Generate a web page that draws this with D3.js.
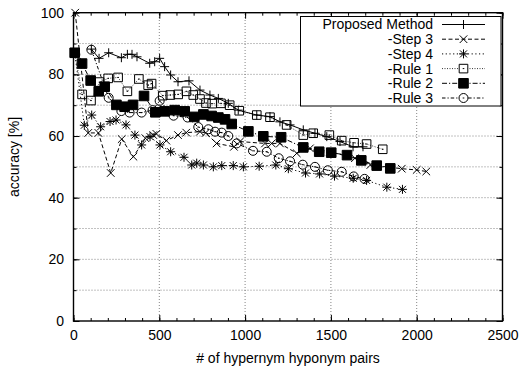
<!DOCTYPE html>
<html>
<head>
<meta charset="utf-8">
<script src="https://cdn.jsdelivr.net/npm/d3@7"></script>
<style>
  body { margin: 0; background: #fff; }
  svg { display: block; font-family: "Liberation Sans", Arial, Helvetica, sans-serif; }
  text { font-size: 14px; fill: #000; }
</style>
</head>
<body>
<div id="chart"></div>
<script>
// values: [pairs, accuracy %]
var proposed = [[104,88.2],[149,85.2],[205,87],[279,85.4],[314,86.5],[341,86.5],[370,85.7],[444,83.6],[473,84.1],[502,85.2],[531,82.5],[566,79.8],[609,77.6],[673,77.9],[737,74.9],[795,73.3],[844,72.2],[902,70.6],[960,68.4],[1068,66.8],[1145,66.3],[1203,64.6],[1262,63.6],[1339,62],[1407,60.9],[1476,59.8],[1553,58.2],[1629,56.5],[1687,56.5]];
var step3 = [[10,100],[86,61],[145,61],[217,48],[281,59],[349,53.3],[419,59.3],[465,60.3],[483,60.7],[541,58.5],[609,60.3],[657,61.1],[737,61.4],[770,61],[834,57.6],[935,56.5],[970,58.2],[1116,57.6],[1155,57.6],[1203,57.6],[1301,54.4],[1378,56],[1495,54.9],[1640,52.8],[1730,50.6],[1913,49.4],[2000,49],[2056,48.5]];
var step4 = [[7,87],[63,63.5],[106,66.8],[158,63],[213,64.7],[248,65.2],[306,63.6],[358,60.3],[397,57.1],[446,59.8],[504,57.1],[566,54.9],[644,53.1],[689,50.6],[718,51.2],[757,50.6],[815,50],[864,50.4],[931,50.4],[990,50],[1082,50.2],[1179,50.6],[1252,49.4],[1352,48],[1434,47.7],[1521,47],[1630,46.3],[1708,45.6],[1826,43.4],[1917,42.7]];
var rule1 = [[7,87],[50,73.5],[102,71.5],[152,77.5],[202,78.7],[260,79],[314,74.5],[381,78.5],[435,76.5],[455,77],[520,73.1],[564,73.3],[610,73.5],[658,74.5],[698,73.3],[737,72],[772,70.7],[808,70.5],[859,70.6],[910,70],[966,68.2],[1068,66.8],[1145,66.1],[1242,63.6],[1339,60.3],[1397,60.9],[1491,60.3],[1563,58.5],[1635,57.8],[1708,57.4],[1802,55.7]];
var rule2 = [[7,87],[50,83.5],[100,78],[147,74.5],[182,76],[250,70.1],[298,69.5],[347,70.1],[411,73],[477,67.7],[531,68],[590,68.4],[648,68],[704,66.2],[757,67],[805,66.5],[844,66],[883,65.4],[922,63.9],[1019,61.5],[1106,59.9],[1210,59.6],[1339,56.3],[1432,54.9],[1502,54.6],[1594,53.8],[1677,52.1],[1767,50.4],[1846,49.5]];
var rule3 = [[104,88],[205,72.4],[279,68.1],[327,67.6],[397,67.6],[461,68.4],[502,71.4],[583,66.6],[665,66],[727,62.9],[786,62.2],[825,61.4],[864,61.1],[902,60],[951,57.6],[1046,55.2],[1126,54.9],[1196,52.8],[1262,51.8],[1336,50.7],[1407,50],[1482,48.9],[1563,48.4],[1633,46.9],[1696,46.1]];

var seriesNames = ['Proposed Method', '-Step 3', '-Step 4', '-Rule 1', '-Rule 2', '-Rule 3'];
var xTicks = [0, 500, 1000, 1500, 2000, 2500];
var yTicks = [0, 20, 40, 60, 80, 100];

var width = 520, height = 368;
var margin = { left: 73.5, right: 17.5, top: 12.7, bottom: 47 };

var svg = d3.select('#chart').append('svg')
    .attr('width', width)
    .attr('height', height);

var x = d3.scaleLinear().domain([0, 2500]).range([margin.left, width - margin.right]);
var y = d3.scaleLinear().domain([0, 100]).range([height - margin.bottom, margin.top]);

// grid (dotted)
var grid = svg.append('g').attr('class', 'grid')
    .attr('stroke', '#666').attr('stroke-width', 0.8).attr('stroke-dasharray', '1,2');
grid.selectAll('line.gx').data([500, 1000, 1500, 2000]).enter().append('line')
    .attr('x1', function(d) { return x(d); }).attr('x2', function(d) { return x(d); })
    .attr('y1', y(0)).attr('y2', y(100));
grid.selectAll('line.gy').data(d3.range(10, 100, 10)).enter().append('line')
    .attr('x1', x(0)).attr('x2', x(2500))
    .attr('y1', function(d) { return y(d); }).attr('y2', function(d) { return y(d); });

// ticks, mirrored like gnuplot
function styleAxis(g) {
  g.select('.domain').remove();
  g.selectAll('line').attr('stroke', '#000').attr('stroke-width', 1);
  g.selectAll('text').attr('font-size', 14).attr('fill', '#000').attr('font-family', null);
}
var minorX = d3.range(0, 2501, 100), minorY = d3.range(0, 101, 10);

svg.append('g').attr('transform', 'translate(0,' + y(0) + ')')
  .call(d3.axisBottom(x).tickValues(minorX).tickSize(-3).tickFormat(''))
  .call(styleAxis);
svg.append('g').attr('transform', 'translate(0,' + y(100) + ')')
  .call(d3.axisTop(x).tickValues(minorX).tickSize(-3).tickFormat(''))
  .call(styleAxis);
svg.append('g').attr('transform', 'translate(0,' + y(0) + ')')
  .call(d3.axisBottom(x).tickValues(xTicks).tickSize(-6).tickPadding(9).tickFormat(d3.format('d')))
  .call(styleAxis);
svg.append('g').attr('transform', 'translate(0,' + y(100) + ')')
  .call(d3.axisTop(x).tickValues(xTicks).tickSize(-6).tickFormat(''))
  .call(styleAxis);
svg.append('g').attr('transform', 'translate(' + x(0) + ',0)')
  .call(d3.axisLeft(y).tickValues(minorY).tickSize(-3).tickFormat(''))
  .call(styleAxis);
svg.append('g').attr('transform', 'translate(' + x(2500) + ',0)')
  .call(d3.axisRight(y).tickValues(minorY).tickSize(-3).tickFormat(''))
  .call(styleAxis);
svg.append('g').attr('transform', 'translate(' + x(0) + ',0)')
  .call(d3.axisLeft(y).tickValues(yTicks).tickSize(-6).tickPadding(9.5))
  .call(styleAxis);
svg.append('g').attr('transform', 'translate(' + x(2500) + ',0)')
  .call(d3.axisRight(y).tickValues(yTicks).tickSize(-6).tickFormat(''))
  .call(styleAxis);

// border
svg.append('rect')
  .attr('x', x(0)).attr('y', y(100))
  .attr('width', x(2500) - x(0)).attr('height', y(0) - y(100))
  .attr('fill', 'none').attr('stroke', '#000').attr('stroke-width', 1.4);

// axis titles
svg.append('text')
  .attr('x', (x(0) + x(2500)) / 2).attr('y', 363)
  .attr('text-anchor', 'middle')
  .text('# of hypernym hyponym pairs');
svg.append('text')
  .attr('transform', 'translate(19,157) rotate(-90)')
  .attr('text-anchor', 'middle')
  .text('accuracy [%]');

// point shapes
var shapes = {
  plus: 'M-4.5,0H4.5M0,-4.5V4.5',
  cross: 'M-3.8,-3.8L3.8,3.8M-3.8,3.8L3.8,-3.8',
  star: 'M-4.5,0H4.5M0,-4.5V4.5M-3.5,-3.5L3.5,3.5M-3.5,3.5L3.5,-3.5',
  square: 'M-4.3,-4.3H4.3V4.3H-4.3Z M-0.8,0H0.8',
  box: 'M-4.8,-4.8H4.8V4.8H-4.8Z',
  circle: 'M-4.5,0A4.5,4.5 0 1,0 4.5,0A4.5,4.5 0 1,0 -4.5,0Z M-0.8,0H0.8'
};

var series = [
  { data: proposed, dash: null, shape: 'plus', fill: 'none', lw: 1 },
  { data: step3, dash: '4,2.5', shape: 'cross', fill: 'none', lw: 1 },
  { data: step4, dash: '1.2,2.5', shape: 'star', fill: 'none', lw: 1 },
  { data: rule1, dash: '1,1.5', shape: 'square', fill: 'none', lw: 0.8 },
  { data: rule2, dash: '5,2,1.2,2', shape: 'box', fill: '#000', lw: 1 },
  { data: rule3, dash: '3.5,2,1.2,2', shape: 'circle', fill: 'none', lw: 1 }
];

var line = d3.line()
  .x(function(d) { return x(d[0]); })
  .y(function(d) { return y(d[1]); });

series.forEach(function(s) {
  var g = svg.append('g');
  g.append('path')
    .attr('d', line(s.data))
    .attr('fill', 'none')
    .attr('stroke', '#000')
    .attr('stroke-width', s.lw)
    .attr('stroke-dasharray', s.dash);
  g.selectAll('path.pt').data(s.data).enter().append('path')
    .attr('class', 'pt')
    .attr('d', shapes[s.shape])
    .attr('transform', function(d) { return 'translate(' + x(d[0]) + ',' + y(d[1]) + ')'; })
    .attr('fill', s.fill)
    .attr('stroke', '#000')
    .attr('stroke-width', 1);
});

// legend
var legend = svg.append('g');
legend.append('rect')
  .attr('x', 300.5).attr('y', 16.5).attr('width', 200.5).attr('height', 89.5)
  .attr('fill', '#fff').attr('stroke', '#000').attr('stroke-width', 1);

var row = legend.selectAll('g.row').data(series).enter().append('g')
  .attr('class', 'row')
  .attr('transform', function(d, i) { return 'translate(0,' + (24.5 + i * 14.7) + ')'; });
row.append('text')
  .attr('x', 433).attr('dy', '0.35em')
  .attr('text-anchor', 'end')
  .text(function(d, i) { return seriesNames[i]; });
row.append('line')
  .attr('x1', 442).attr('x2', 485)
  .attr('stroke', '#000')
  .attr('stroke-width', function(d) { return d.lw; })
  .attr('stroke-dasharray', function(d) { return d.dash; });
row.append('path')
  .attr('d', function(d) { return shapes[d.shape]; })
  .attr('transform', 'translate(463.5,0)')
  .attr('fill', function(d) { return d.fill === 'none' ? '#fff' : d.fill; })
  .attr('stroke', '#000')
  .attr('stroke-width', 1);
</script>
</body>
</html>
